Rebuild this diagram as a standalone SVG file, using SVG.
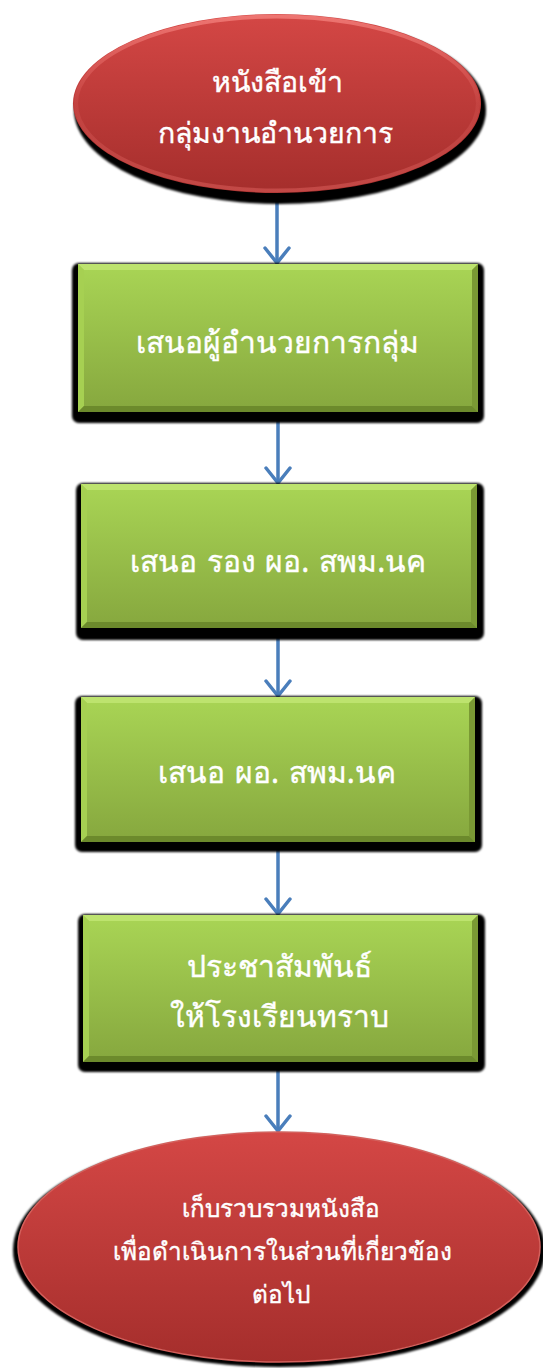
<svg xmlns="http://www.w3.org/2000/svg" width="543" height="1368" viewBox="0 0 543 1368">
<style>
.t{font-family:"Noto Sans","DejaVu Sans",sans-serif;fill:#ffffff;stroke:#ffffff;stroke-width:0.4;text-anchor:middle;}
.big{font-size:30px;}
.top{font-size:28.5px;}
.sp{word-spacing:2px;}
.small{font-size:24.3px;}
.conn{stroke:#4a7ebb;stroke-width:3.5;fill:none;marker-end:url(#arr);}
.shadow{fill:#000;filter:url(#blur);}
.face{fill:url(#gGreen);}
.bt{fill:#bde36e;}
.bl{fill:#a6d052;}
.br{fill:#7a9934;}
.bb{fill:#6c8a2c;}
</style>
<defs>
<linearGradient id="gGreen" x1="0" y1="0" x2="0" y2="1">
<stop offset="0" stop-color="#a9d555"/>
<stop offset="1" stop-color="#86a73e"/>
</linearGradient>
<linearGradient id="gRed" x1="0" y1="0" x2="0" y2="1">
<stop offset="0" stop-color="#d44745"/>
<stop offset="1" stop-color="#a52e2c"/>
</linearGradient>
<linearGradient id="gRim" x1="0" y1="0" x2="0" y2="1">
<stop offset="0" stop-color="#f07a76" stop-opacity="0.9"/>
<stop offset="0.5" stop-color="#e06360" stop-opacity="0.2"/>
<stop offset="1" stop-color="#e06360" stop-opacity="0.5"/>
</linearGradient>
<filter id="blur" x="-10%" y="-10%" width="120%" height="120%">
<feGaussianBlur stdDeviation="1.2"/>
</filter>
<marker id="arr" markerUnits="userSpaceOnUse" viewBox="0 0 20 28" refX="17" refY="14" markerWidth="20" markerHeight="28" orient="auto">
<path d="M2,2 L17,14 L2,26" fill="none" stroke="#4a7ebb" stroke-width="3.5" stroke-linecap="round"/>
</marker>
</defs>

<g id="connectors">
<line class="conn" x1="277" y1="193" x2="277" y2="263"/>
<line class="conn" x1="278" y1="412" x2="278" y2="483"/>
<line class="conn" x1="278" y1="628" x2="278" y2="696"/>
<line class="conn" x1="278" y1="842" x2="278" y2="914"/>
<line class="conn" x1="278" y1="1062" x2="278" y2="1131"/>
</g>

<g id="start">
<ellipse class="shadow" cx="280" cy="110" rx="206" ry="94"/>
<ellipse cx="277" cy="103.5" rx="204" ry="89.5" fill="url(#gRed)"/>
<ellipse cx="277" cy="103.5" rx="201" ry="87" fill="none" stroke="url(#gRim)" stroke-width="4"/>
<text class="t top" x="277" y="92">หนังสือเข้า</text>
<text class="t top" x="275" y="143">กลุ่มงานอำนวยการ</text>
</g>

<g id="step1">
<rect class="shadow" x="72" y="263" width="412" height="160" rx="7"/>
<rect class="face" x="78" y="264" width="400" height="148"/>
<polygon class="bt" points="78,264 478,264 472,270 84,270"/>
<polygon class="bl" points="78,264 84,270 84,406 78,412"/>
<polygon class="br" points="478,264 478,412 472,406 472,270"/>
<polygon class="bb" points="78,412 478,412 472,406 84,406"/>
<text class="t big" x="277" y="353">เสนอผู้อำนวยการกลุ่ม</text>
</g>

<g id="step2">
<rect class="shadow" x="76" y="483" width="408" height="157" rx="7"/>
<rect class="face" x="81" y="484" width="396" height="144"/>
<polygon class="bt" points="81,484 477,484 471,490 87,490"/>
<polygon class="bl" points="81,484 87,490 87,622 81,628"/>
<polygon class="br" points="477,484 477,628 471,622 471,490"/>
<polygon class="bb" points="81,628 477,628 471,622 87,622"/>
<text class="t big sp" x="278" y="572">เสนอ รอง ผอ. สพม.นค</text>
</g>

<g id="step3">
<rect class="shadow" x="75" y="696" width="407" height="156" rx="7"/>
<rect class="face" x="81" y="697" width="394" height="145"/>
<polygon class="bt" points="81,697 475,697 469,703 87,703"/>
<polygon class="bl" points="81,697 87,703 87,836 81,842"/>
<polygon class="br" points="475,697 475,842 469,836 469,703"/>
<polygon class="bb" points="81,842 475,842 469,836 87,836"/>
<text class="t big sp" x="277" y="783">เสนอ ผอ. สพม.นค</text>
</g>

<g id="step4">
<rect class="shadow" x="78" y="914" width="407" height="158" rx="7"/>
<rect class="face" x="83" y="915" width="395" height="147"/>
<polygon class="bt" points="83,915 478,915 472,921 89,921"/>
<polygon class="bl" points="83,915 89,921 89,1056 83,1062"/>
<polygon class="br" points="478,915 478,1062 472,1056 472,921"/>
<polygon class="bb" points="83,1062 478,1062 472,1056 89,1056"/>
<text class="t big" x="279" y="977">ประชาสัมพันธ์</text>
<text class="t big" x="279" y="1027">ให้โรงเรียนทราบ</text>
</g>

<g id="end">
<ellipse class="shadow" cx="279" cy="1250" rx="266" ry="117"/>
<ellipse cx="279" cy="1247" rx="261" ry="115" fill="url(#gRed)" stroke="#d4605c" stroke-width="1.5"/>
<text class="t small" x="281" y="1217">เก็บรวบรวมหนังสือ</text>
<text class="t small" x="282" y="1260">เพื่อดำเนินการในส่วนที่เกี่ยวข้อง</text>
<text class="t small" x="281" y="1303">ต่อไป</text>
</g>
</svg>
